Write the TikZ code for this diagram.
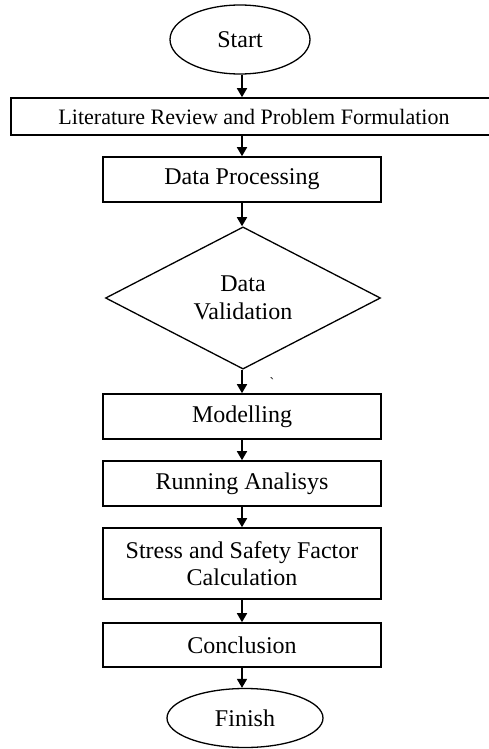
\documentclass[tikz,border=0pt]{standalone}
\usepackage{fontspec}
\setmainfont{Liberation Serif}
\usetikzlibrary{shapes.geometric,arrows.meta,positioning}

\tikzset{
  stepbox/.style={rectangle, draw, line width=1.6pt, inner sep=0pt,
    minimum width=278pt, align=center},
  terminal/.style={ellipse, draw, line width=1.3pt, inner sep=0pt},
  decision/.style={diamond, draw, line width=1.3pt, inner sep=0pt,
    minimum width=275pt, minimum height=142pt, align=center},
  flow/.style={line width=1.6pt, -{Triangle[length=9pt,width=10pt]}}
}

\begin{document}
\begin{tikzpicture}[x=1pt,y=-1pt,
  every node/.style={font=\fontsize{24}{27.5}\selectfont}]
\useasboundingbox (0,0) rectangle (488,749);

\node[terminal, minimum width=140pt, minimum height=69pt] (start) at (240,39.5) {Start};
\node[stepbox, minimum width=486pt, minimum height=37pt,
  font=\fontsize{22}{26}\selectfont] (lit) at (254,116.5) {Literature Review and Problem Formulation};
\node[stepbox, minimum height=45pt] (dp) at (242,179.5) {Data Processing};
\node[decision] (val) at (243,298) {Data\\Validation};
\node[font=\fontsize{14}{14}\selectfont] (tick) at (272,383) {\textasciigrave};
\node[stepbox, minimum height=45pt] (model) at (242,416.5) {Modelling};
\node[stepbox, minimum height=45pt] (run) at (242,483.5) {Running Analisys};
\node[stepbox, minimum height=71pt] (stress) at (242,563.5) {Stress and Safety Factor\\Calculation};
\node[stepbox, minimum height=44pt] (concl) at (242,645) {Conclusion};
\node[terminal, minimum width=156pt, minimum height=59pt] (finish) at (245,718) {Finish};

\draw[flow] (start.south -| dp) -- (lit.north -| dp);
\draw[flow] (lit.south -| dp) -- (dp);
\draw[flow] (dp) -- (val.north -| dp);
\draw[flow] (val.south -| dp) -- (model);
\draw[flow] (model) -- (run);
\draw[flow] (run) -- (stress);
\draw[flow] (stress) -- (concl);
\draw[flow] (concl) -- (finish.north -| concl);
\end{tikzpicture}
\end{document}
